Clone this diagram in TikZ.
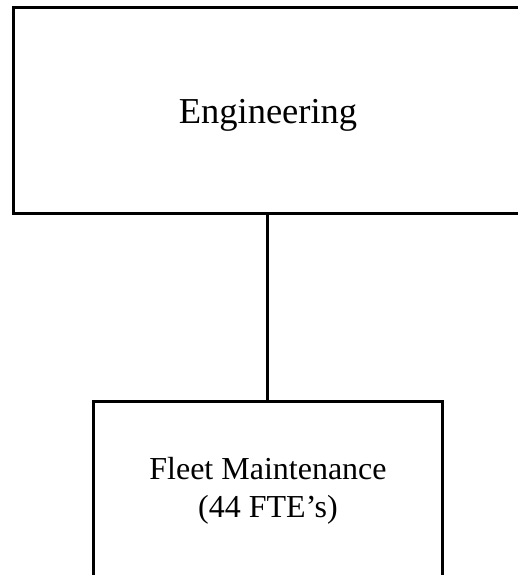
\documentclass[tikz,border=0pt]{standalone}
\usepackage{fontspec}
\setmainfont{Liberation Serif}
\begin{document}
\begin{tikzpicture}[x=1pt,y=1pt,
  box/.style={draw=black,line width=3pt,rectangle,inner sep=0pt},
  lbl/.style={anchor=base,inner sep=0pt}]
\useasboundingbox (0,0) rectangle (517,575);
\node[box,minimum width=520pt,minimum height=206pt] (eng) at (273,464) {};
\node[box,minimum width=349pt,minimum height=190pt] (fleet) at (267.5,78) {};
\node[lbl,font=\fontsize{36.5}{40}\selectfont] (engtxt) at (268,451) {Engineering};
\node[lbl,font=\fontsize{32}{36}\selectfont] (fl1) at (268,95) {Fleet Maintenance};
\node[lbl,font=\fontsize{32}{36}\selectfont] (fl2) at (268,57) {(44 FTE’s)};
\coordinate (c) at (fleet.north |- eng.south);
\draw[line width=3pt] (c) -- (fleet.north);
\end{tikzpicture}
\end{document}
